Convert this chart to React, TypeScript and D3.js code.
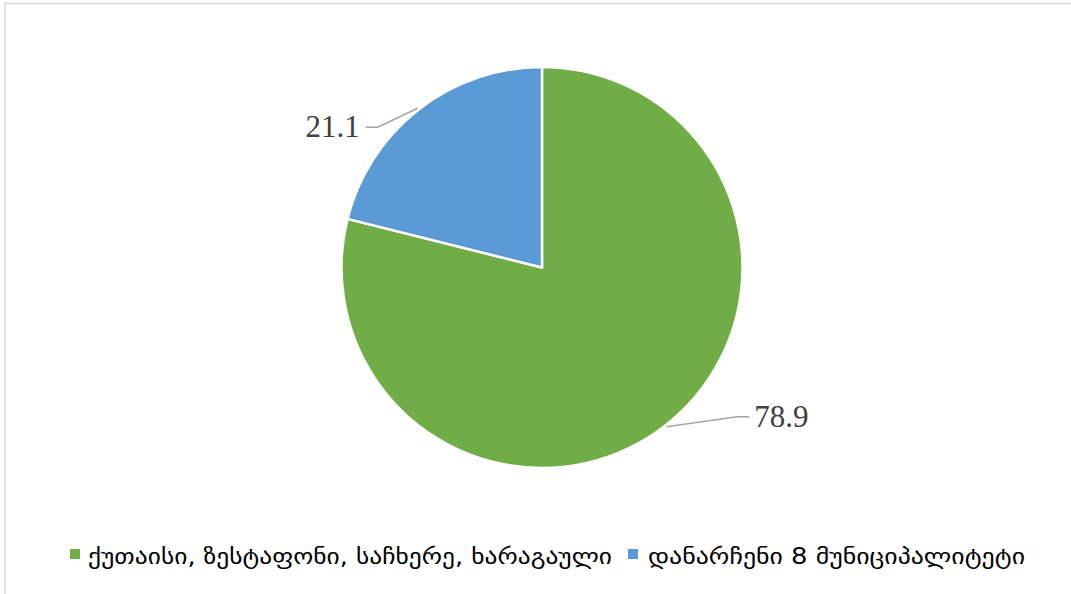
import React from "react";
import * as d3 from "d3";

const categories = ["ქუთაისი, ზესტაფონი, საჩხერე, ხარაგაული", "დანარჩენი 8 მუნიციპალიტეტი"];
const values = [78.9, 21.1];
const labels = ["78.9", "21.1"];
const colors = ["#70AD47", "#5B9BD5"];

const W = 1071;
const H = 594;

export default function App() {
  const cx = 542;
  const cy = 267.5;
  const r = 200.5;
  const pie = d3.pie<number>().sort(null).value((d) => d)(values);
  const arc = d3.arc<d3.PieArcDatum<number>>().innerRadius(0).outerRadius(r);

  const pt = (a: number, rr: number) => [cx + rr * Math.sin(a), cy - rr * Math.cos(a)];

  return (
    <svg width={W} height={H} style={{ position: "absolute", left: 0, top: 0, background: "#fff" }}>
      <rect x={5} y={3.5} width={1200} height={800} fill="#fff" stroke="#d9d9d9" strokeWidth={1.5} />
      <g transform={`translate(${cx},${cy})`}>
        {pie.map((p, i) => (
          <path key={i} d={arc(p) || ""} fill={colors[i]} stroke="#fff" strokeWidth={2.5} strokeLinejoin="round" />
        ))}
      </g>
      {pie.map((p, i) => {
        const mid = (p.startAngle + p.endAngle) / 2;
        const [x0, y0] = pt(mid, r + 1.5);
        const right = Math.sin(mid) > 0;
        const ly = i === 0 ? y0 - 10 : y0 + 19;
        const x1 = right ? x0 + 71 : x0 - 40;
        const x2 = right ? x1 + 12 : x1 - 12;
        return (
          <g key={i}>
            <polyline points={`${x0},${y0} ${x1},${ly} ${x2},${ly}`} fill="none" stroke="#A6A6A6" strokeWidth={1.5} />
            <text
              x={right ? x2 + 5 : x2 - 6}
              y={ly + 10}
              textAnchor={right ? "start" : "end"}
              fontFamily="'Liberation Serif', 'DejaVu Serif', serif"
              fontSize={31}
              fill="#404040"
            >
              {labels[i]}
            </text>
          </g>
        );
      })}
      <g>
        <rect x={70} y={549} width={10} height={10} fill={colors[0]} />
        <text x={88} y={564} fontFamily="'DejaVu Sans', sans-serif" fontSize={22.5} fill="#000" textLength={524} lengthAdjust="spacingAndGlyphs">
          {categories[0]}
        </text>
        <rect x={628} y={549} width={10} height={10} fill={colors[1]} />
        <text x={648} y={564} fontFamily="'DejaVu Sans', sans-serif" fontSize={22.5} fill="#000" textLength={377} lengthAdjust="spacingAndGlyphs">
          {categories[1]}
        </text>
      </g>
    </svg>
  );
}
